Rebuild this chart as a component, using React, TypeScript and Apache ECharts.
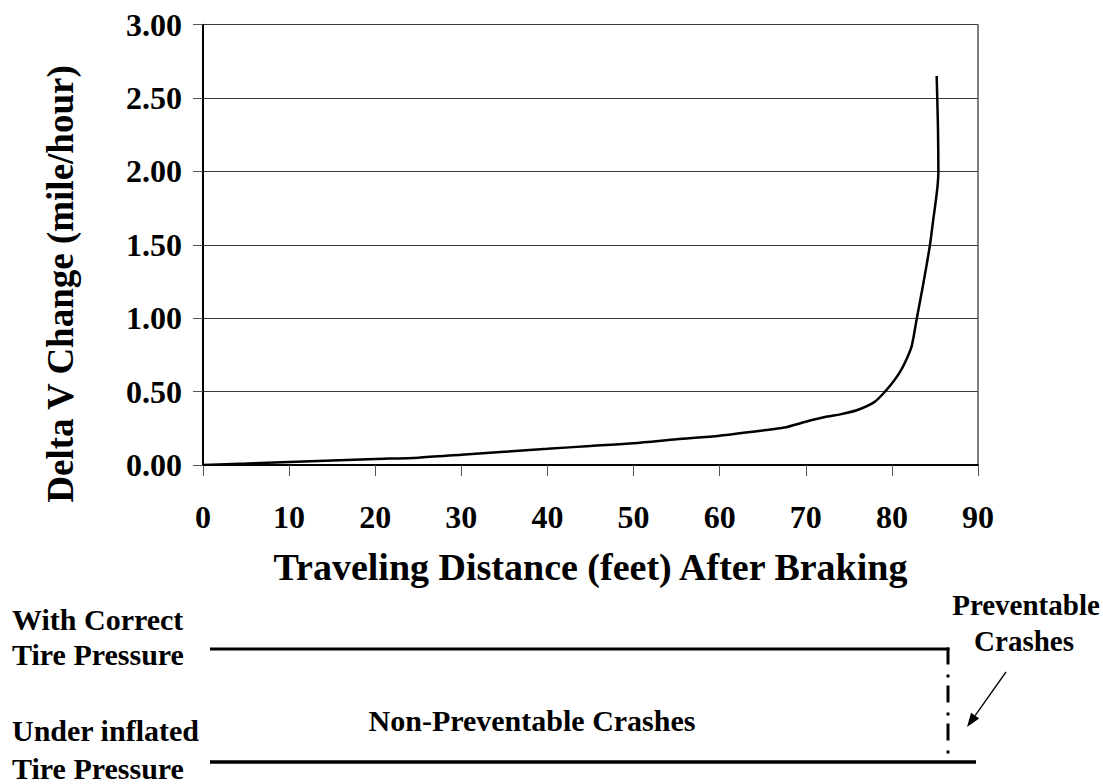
import React, { useEffect, useRef } from "react";
import * as echarts from "echarts";

// Traveling distance after braking (feet)
const distance = [0, 5, 10, 15, 20, 25, 30, 35, 40, 45, 50, 55, 60, 65, 67.5, 70, 72.5, 74, 76, 78, 79.2, 80.2, 81.1, 81.7, 82.3, 82.9, 83.6, 84.4, 84.8, 85.1, 85.3, 85.4, 85.35, 85.2];
// Delta V change (mile/hour)
const deltaV = [0, 0.01, 0.021, 0.031, 0.041, 0.05, 0.07, 0.09, 0.11, 0.13, 0.148, 0.175, 0.2, 0.235, 0.255, 0.295, 0.33, 0.345, 0.375, 0.43, 0.5, 0.57, 0.65, 0.72, 0.81, 1.0, 1.22, 1.49, 1.67, 1.8, 1.9, 2.0, 2.3, 2.65];

const xTicks = [0, 10, 20, 30, 40, 50, 60, 70, 80, 90];
const yTicks = [0, 0.5, 1, 1.5, 2, 2.5, 3];

const xTitle = "Traveling Distance (feet) After Braking";
const yTitle = "Delta V Change (mile/hour)";
const leftLabels = ["With Correct", "Tire Pressure", "Under inflated", "Tire Pressure"];
const middleLabel = "Non-Preventable Crashes";
const rightLabels = ["Preventable", "Crashes"];

const FF = '"Liberation Serif", "Times New Roman", serif';

function txt(text: string, x: number, y: number, size: number, align: string, extra: any = {}) {
  return {
    type: "text",
    x,
    y,
    ...extra,
    style: {
      text,
      fill: "#000",
      font: `bold ${size}px ${FF}`,
      fontSize: size,
      fontWeight: "bold",
      fontFamily: FF,
      align,
      textAlign: align,
      verticalAlign: "middle",
      textVerticalAlign: "middle",
    },
  };
}

export default function App() {
  const ref = useRef<HTMLDivElement>(null);
  useEffect(() => {
    if (!ref.current) return;
    const chart = echarts.init(ref.current, undefined, { renderer: "svg" });

    const gLeft = 203, gRight = 978, gTop = 24.7, gBottom = 465;

    // arrow for "Preventable Crashes"
    const ax1 = 1006, ay1 = 672, ax2 = 967, ay2 = 727;
    const dx = ax2 - ax1, dy = ay2 - ay1;
    const len = Math.sqrt(dx * dx + dy * dy);
    const ux = dx / len, uy = dy / len;
    const hl = 14, hw = 5;
    const bx = ax2 - ux * hl, by = ay2 - uy * hl;

    const option: any = {
      animation: false,
      backgroundColor: "#fff",
      grid: { left: gLeft, right: 1103 - gRight, top: gTop, bottom: 784 - gBottom, containLabel: false },
      xAxis: {
        type: "value",
        min: xTicks[0],
        max: xTicks[xTicks.length - 1],
        interval: 10,
        axisLine: { show: true, lineStyle: { color: "#000", width: 2 } },
        axisTick: { show: true, inside: false, length: 11, lineStyle: { color: "#555", width: 1 } },
        axisLabel: {
          margin: 52,
          verticalAlign: "middle",
          color: "#000",
          fontSize: 32,
          fontWeight: "bold",
          fontFamily: FF,
        },
        splitLine: { show: false },
      },
      yAxis: [
        {
          type: "value",
          min: yTicks[0],
          max: yTicks[yTicks.length - 1],
          interval: 0.5,
          axisLine: { show: true, lineStyle: { color: "#000", width: 2 } },
          axisTick: { show: true, inside: false, length: 10, lineStyle: { color: "#555", width: 1 } },
          axisLabel: {
            margin: 21,
            color: "#000",
            fontSize: 32,
            fontWeight: "bold",
            fontFamily: FF,
            formatter: (v: number) => v.toFixed(2),
          },
          splitLine: { show: true, lineStyle: { color: "#3a3a3a", width: 1 } },
        },
        {
          type: "value",
          position: "right",
          min: yTicks[0],
          max: yTicks[yTicks.length - 1],
          interval: 0.5,
          axisLine: { show: true, lineStyle: { color: "#555", width: 1.5 } },
          axisTick: { show: false },
          axisLabel: { show: false },
          splitLine: { show: false },
        },
      ],
      series: [
        {
          type: "line",
          data: distance.map((d, i) => [d, deltaV[i]]),
          showSymbol: false,
          symbol: "none",
          smooth: 0.25,
          lineStyle: { color: "#000", width: 2.5 },
          z: 5,
        },
      ],
      graphic: [
        txt(yTitle, 60, 284, 37, "center", { rotation: Math.PI / 2 }),
        txt(xTitle, (gLeft + gRight) / 2, 567, 38, "center"),
        txt(leftLabels[0], 12, 619, 30, "left"),
        txt(leftLabels[1], 12, 654, 30, "left"),
        txt(leftLabels[2], 12, 730, 30, "left"),
        txt(leftLabels[3], 12, 768, 30, "left"),
        txt(middleLabel, 532, 720, 30, "center"),
        txt(rightLabels[0], 1026, 605, 29, "center"),
        txt(rightLabels[1], 1024, 641, 29, "center"),
        {
          type: "line",
          shape: { x1: 210, y1: 649, x2: 949.5, y2: 649 },
          style: { stroke: "#000", lineWidth: 3 },
        },
        {
          type: "line",
          shape: { x1: 948, y1: 647.5, x2: 948, y2: 762 },
          style: { stroke: "#000", lineWidth: 3, lineDash: [17, 10, 3, 8] },
        },
        {
          type: "line",
          shape: { x1: 210, y1: 762, x2: 976, y2: 762 },
          style: { stroke: "#000", lineWidth: 3.5 },
        },
        {
          type: "line",
          shape: { x1: ax1, y1: ay1, x2: bx, y2: by },
          style: { stroke: "#000", lineWidth: 1.3 },
        },
        {
          type: "polygon",
          shape: {
            points: [
              [ax2, ay2],
              [bx - uy * hw, by + ux * hw],
              [bx + uy * hw, by - ux * hw],
            ],
          },
          style: { fill: "#000" },
        },
      ],
    };
    chart.setOption(option);
    return () => chart.dispose();
  }, []);
  return (
    <div
      ref={ref}
      style={{ position: "fixed", left: 0, top: 0, width: 1103, height: 784, background: "#fff" }}
    />
  );
}
